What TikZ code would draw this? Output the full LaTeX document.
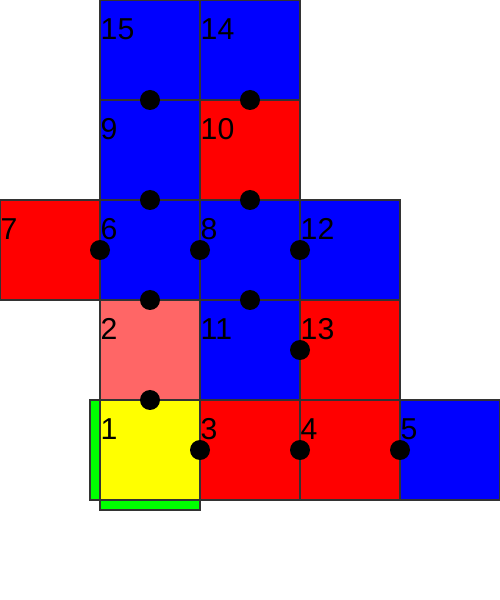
\documentclass[tikz,border=0pt]{standalone}
\usepackage{fontspec}
\setmainfont{Liberation Sans}
\usepackage{tikz}
\usetikzlibrary{positioning}
\definecolor{bleu}{RGB}{0,0,255}
\definecolor{rouge}{RGB}{255,0,0}
\definecolor{rose}{RGB}{255,102,102}
\definecolor{jaune}{RGB}{255,255,0}
\definecolor{vert}{RGB}{0,255,0}

\begin{document}
\begin{tikzpicture}[x=1cm,y=1cm,
  case/.style={draw=black!80,line width=0.3pt},
  num/.style={anchor=base west,inner sep=0pt,font=\fontsize{8.6}{10}\selectfont},
  pion/.style={circle,fill=black,inner sep=0pt,minimum size=2mm}]
  \useasboundingbox (0,0) rectangle (5,6);
  % bords verts
  \draw[case,fill=vert] (0.9,1) rectangle (1,2);
  \draw[case,fill=vert] (1,0.9) rectangle (2,1);
  % cases
  \foreach \x/\y/\c/\n in {1/5/bleu/15,2/5/bleu/14,1/4/bleu/9,2/4/rouge/10,
      0/3/rouge/7,1/3/bleu/6,2/3/bleu/8,3/3/bleu/12,
      1/2/rose/2,2/2/bleu/11,3/2/rouge/13,
      1/1/jaune/1,2/1/rouge/3,3/1/rouge/4,4/1/bleu/5}{
    \draw[case,fill=\c] (\x,\y) rectangle ++(1,1);
    \node[num] (n\n) at (\x,\y+0.6) {\n};
  }
  % pions
  \foreach \x/\y [count=\i] in {1.5/5,2.5/5,1.5/4,2.5/4,1/3.5,2/3.5,3/3.5,
      1.5/3,2.5/3,3/2.5,1.5/2,2/1.5,3/1.5,4/1.5}
    \node[pion] (p\i) at (\x,\y) {};
\end{tikzpicture}
\end{document}
